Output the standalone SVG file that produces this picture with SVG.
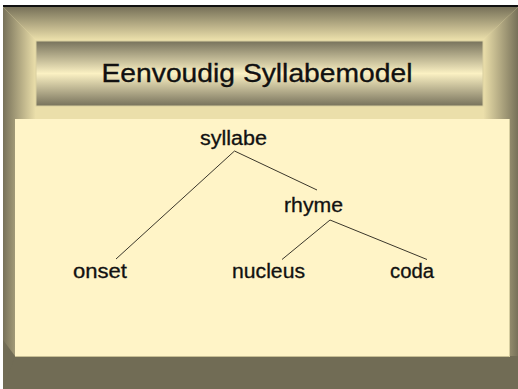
<svg xmlns="http://www.w3.org/2000/svg" width="518" height="389" viewBox="0 0 518 389">
<defs>
<linearGradient id="gTop" x1="0" y1="0" x2="0" y2="1"><stop offset="0" stop-color="#777159"/><stop offset="1" stop-color="#ece0ab"/></linearGradient>
<linearGradient id="gLeft" x1="0" y1="0" x2="1" y2="0"><stop offset="0" stop-color="#777159"/><stop offset="1" stop-color="#ece0ab"/></linearGradient>
<linearGradient id="gRight" x1="0" y1="0" x2="1" y2="0"><stop offset="0" stop-color="#ece0ab"/><stop offset="1" stop-color="#777159"/></linearGradient>
<linearGradient id="gTitle" x1="0" y1="0" x2="0" y2="1"><stop offset="0" stop-color="#77725c"/><stop offset="0.5" stop-color="#fbf1c3"/><stop offset="1" stop-color="#77725c"/></linearGradient>
<style>
.lbl{font-family:"Liberation Sans",Arial,sans-serif;font-size:20px;fill:#111;stroke:#111;stroke-width:0.3;text-anchor:middle}
.ttl{font-family:"Liberation Sans",Arial,sans-serif;font-size:26.5px;fill:#111;stroke:#111;stroke-width:0.35;text-anchor:middle}
.edge{stroke:#3a362a;stroke-width:1;fill:none}
</style>
</defs>
<rect x="0" y="0" width="518" height="389" fill="#ffffff"/>
<rect x="3" y="5" width="515" height="2" fill="#111"/>
<g id="frame">
<rect x="3" y="7" width="515" height="382" fill="#ebdfaa"/>
<polygon points="3,7 518,7 483,40 36,40" fill="url(#gTop)"/>
<polygon points="3,7 36,40 36,356 3,389" fill="url(#gLeft)"/>
<polygon points="518,7 518,389 483,356 483,40" fill="url(#gRight)"/>
<polygon points="3,389 518,389 518,356 3,356" fill="#716c55"/>
<polygon points="3,340 15,356 3,389" fill="#716c55"/>
</g>
<g id="title">
<rect x="36" y="41" width="447" height="65" fill="url(#gTitle)" stroke="#d9cf9f" stroke-width="1"/>
<text class="ttl" x="257" y="82" textLength="311" lengthAdjust="spacingAndGlyphs">Eenvoudig Syllabemodel</text>
</g>
<g id="panel">
<rect x="15" y="119" width="494" height="237" fill="#fff4c7"/>
<line x1="15" y1="356.5" x2="509" y2="356.5" stroke="#c8bf94" stroke-width="1"/>
<line x1="509.5" y1="119" x2="509.5" y2="357" stroke="#d6cda0" stroke-width="1"/>
</g>
<g id="connectors">
<line class="edge" x1="234.5" y1="151" x2="116" y2="259"/>
<line class="edge" x1="234.5" y1="151" x2="317" y2="190"/>
<line class="edge" x1="330" y1="220" x2="282" y2="259.5"/>
<line class="edge" x1="330" y1="220" x2="427" y2="259.5"/>
</g>
<g id="syllabe"><text class="lbl" x="233.5" y="145" textLength="67" lengthAdjust="spacingAndGlyphs">syllabe</text></g>
<g id="rhyme"><text class="lbl" x="313.5" y="212" textLength="59" lengthAdjust="spacingAndGlyphs">rhyme</text></g>
<g id="onset"><text class="lbl" x="100" y="278" textLength="54" lengthAdjust="spacingAndGlyphs">onset</text></g>
<g id="nucleus"><text class="lbl" x="268.5" y="278" textLength="73" lengthAdjust="spacingAndGlyphs">nucleus</text></g>
<g id="coda"><text class="lbl" x="412" y="278" textLength="44" lengthAdjust="spacingAndGlyphs">coda</text></g>
</svg>
